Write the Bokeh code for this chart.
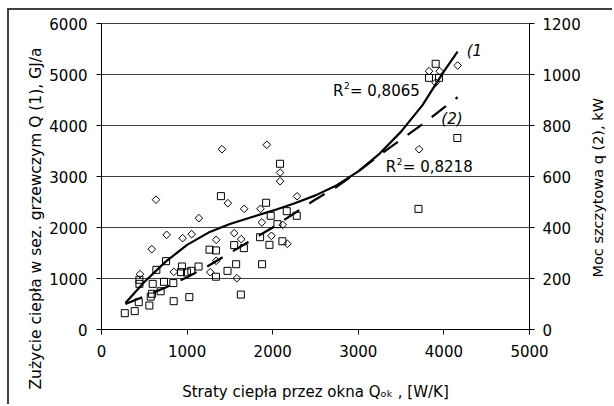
import math
from bokeh.plotting import figure
from bokeh.layouts import row
from bokeh.models import Range1d, LinearAxis, SingleIntervalTicker, Label, Title, Spacer
from bokeh.core.properties import value
from bokeh.embed import file_html
from bokeh.resources import INLINE

# ---- data ----
# series (1): heat use in heating season Q [GJ/a] (left axis), diamonds
q1_x = [450, 587, 637, 761, 845, 948, 1053, 1138, 1270, 1340, 1340, 1407, 1476, 1550,
        1581, 1632, 1667, 1857, 1873, 1931, 1985, 2086, 2086, 2117, 2172, 2284,
        3710, 3826, 3904, 3951, 4161]
q1_y = [1085, 1575, 2545, 1856, 1130, 1791, 1869, 2183, 1124, 1758, 1347, 3535, 2477, 1889,
        1006, 1771, 2366, 2366, 2100, 3622, 1837, 3078, 2908, 2052, 1680, 2612,
        3535, 5065, 4840, 5065, 5176]

# series (2): peak power q [kW] (right axis), squares
q2_x = [272, 388, 435, 443, 443, 559, 575, 591, 598, 641, 691, 730, 754, 839, 843, 929,
        940, 999, 1026, 1049, 1134, 1262, 1337, 1337, 1395, 1472, 1550, 1573, 1628, 1663,
        1853, 1876, 1923, 1962, 1977, 2055, 2086, 2113, 2164, 2281, 3703, 3826, 3904,
        3943, 4157]
q2_y = [64, 72, 107, 195, 179, 94, 129, 140, 179, 234, 150, 187, 268, 182, 111, 225,
        247, 224, 127, 230, 247, 313, 310, 207, 523, 230, 331, 256, 137, 319,
        362, 256, 497, 332, 446, 413, 650, 346, 464, 446, 473, 987, 1042,
        987, 751]

# trend line (1) (left axis)
t1_x = [280, 500, 750, 1000, 1250, 1500, 1750, 2000, 2250, 2500, 2750, 3000, 3250, 3500, 3750, 4000, 4160]
t1_y = [520, 930, 1330, 1660, 1900, 2070, 2200, 2330, 2470, 2630, 2830, 3100, 3450, 3880, 4400, 5060, 5450]

# trend line (2) (right axis)
t2_x = [280, 500, 750, 1000, 1250, 1500, 1750, 2000, 2250, 2500, 2750, 3000, 3250, 3500, 3750, 4000, 4160]
t2_y = [100, 130, 165, 205, 250, 300, 350, 400, 455, 510, 560, 620, 685, 745, 805, 870, 911]

r2_1 = "= 0,8065"
r2_2 = "= 0,8218"

x_title = "Straty ciepła przez okna Q\u2092\u2096 , [W/K]"
y_title = "Zużycie ciepła w sez. grzewczym  Q (1), GJ/a"
y2_title = "Moc szczytowa q (2),  kW"

FONT = "DejaVu Sans"
FS = "15px"
H = 394

p = figure(width=561, height=H, x_range=Range1d(0, 5000), y_range=Range1d(0, 6000),
           output_backend="svg", toolbar_location=None,
           min_border_left=79, min_border_right=53, min_border_top=13, min_border_bottom=75)
p.background_fill_color = "white"
p.border_fill_color = "white"
p.outline_line_color = "#404040"

p.extra_y_ranges = {"q": Range1d(0, 1200)}

xt = SingleIntervalTicker(interval=1000, num_minor_ticks=0)
yt = SingleIntervalTicker(interval=1000, num_minor_ticks=0)
p.xaxis[0].ticker = xt
p.yaxis[0].ticker = yt
p.xgrid.visible = False
p.ygrid[0].ticker = yt
p.ygrid.grid_line_color = "#404040"
p.ygrid.grid_line_width = 1

right = LinearAxis(y_range_name="q", ticker=SingleIntervalTicker(interval=200, num_minor_ticks=0))
p.add_layout(right, "right")

for ax, st in ((p.below[0], 10), (p.left[0], 9), (right, 8)):
    ax.major_tick_out = 5
    ax.major_tick_in = 0
    ax.minor_tick_out = 0
    ax.minor_tick_in = 0
    ax.axis_line_color = "black"
    ax.major_tick_line_color = "black"
    ax.major_label_text_font = FONT
    ax.major_label_text_font_size = FS
    ax.major_label_text_color = "black"
    ax.major_label_standoff = st
    ax.axis_label_text_font = FONT
    ax.axis_label_text_font_size = FS
    ax.axis_label_text_font_style = "normal"
    ax.axis_label_text_color = "black"

bx = p.below[0]
bx.axis_label = x_title
bx.axis_label_standoff = 23

# left axis title (side panel title, shifted down like the original)
ytitle = Title(text=y_title, align="left", offset=-60, text_font=FONT,
               text_font_size="15.5px", text_font_style="normal", text_color="black")
if "standoff" in ytitle.properties():
    ytitle.standoff = 3
p.add_layout(ytitle, "left")

# markers
p.scatter(q1_x, q1_y, marker="square", angle=math.pi / 4, size=5.4,
          fill_color=None, line_color="black", line_width=1)
p.scatter(q2_x, q2_y, marker="square", size=7, y_range_name="q",
          fill_color=None, line_color="black", line_width=1)

# trend lines
p.line(t1_x, t1_y, line_color="black", line_width=2.2)
p.line(t2_x, t2_y, line_color="black", line_width=2.2, line_dash="18 12", y_range_name="q")

def lab(text, x, y, xo=0, yo=0, size=FS, style="normal"):
    p.add_layout(Label(x=x, y=y, x_offset=xo, y_offset=yo,
                       text=text, text_font=FONT, text_font_size=size, text_font_style=style,
                       text_color="black", text_align="left", text_baseline="middle"))

# R^2 labels
lab("R", 2704, 4673)
lab("2", 2704, 4673, xo=11, yo=6, size="9px")
lab(r2_1, 2704, 4673, xo=17)
lab("R", 3322, 3182)
lab("2", 3322, 3182, xo=11, yo=6, size="9px")
lab(r2_2, 3322, 3182, xo=17)

# series tags
lab("(1", 4266, 5470, style="italic")
lab("(2)", 3970, 4131, style="italic")

# right strip carrying the right-axis title (reads bottom to top)
rs = figure(width=29, height=H, x_range=Range1d(0, 29), y_range=Range1d(0, 6000),
            output_backend="svg", toolbar_location=None,
            x_axis_location=None, y_axis_location=None,
            min_border_left=0, min_border_right=0, min_border_top=13, min_border_bottom=75)
rs.title.visible = False
rs.grid.visible = False
rs.outline_line_color = None
rs.background_fill_color = "white"
rs.border_fill_color = "white"
rs.text(x=[14], y=[2824], text=[y2_title], angle=math.pi / 2, text_align="center",
        text_baseline="middle", text_font=value(FONT), text_font_size="14.5px", text_color="black")

lay = row(Spacer(width=13, height=H), p, rs)
lay.styles = {"margin-left": "7px", "margin-top": "8px",
              "border-left": "2px solid #404040", "border-top": "2px solid #404040"}

open("out.html", "w").write(file_html(lay, INLINE))
